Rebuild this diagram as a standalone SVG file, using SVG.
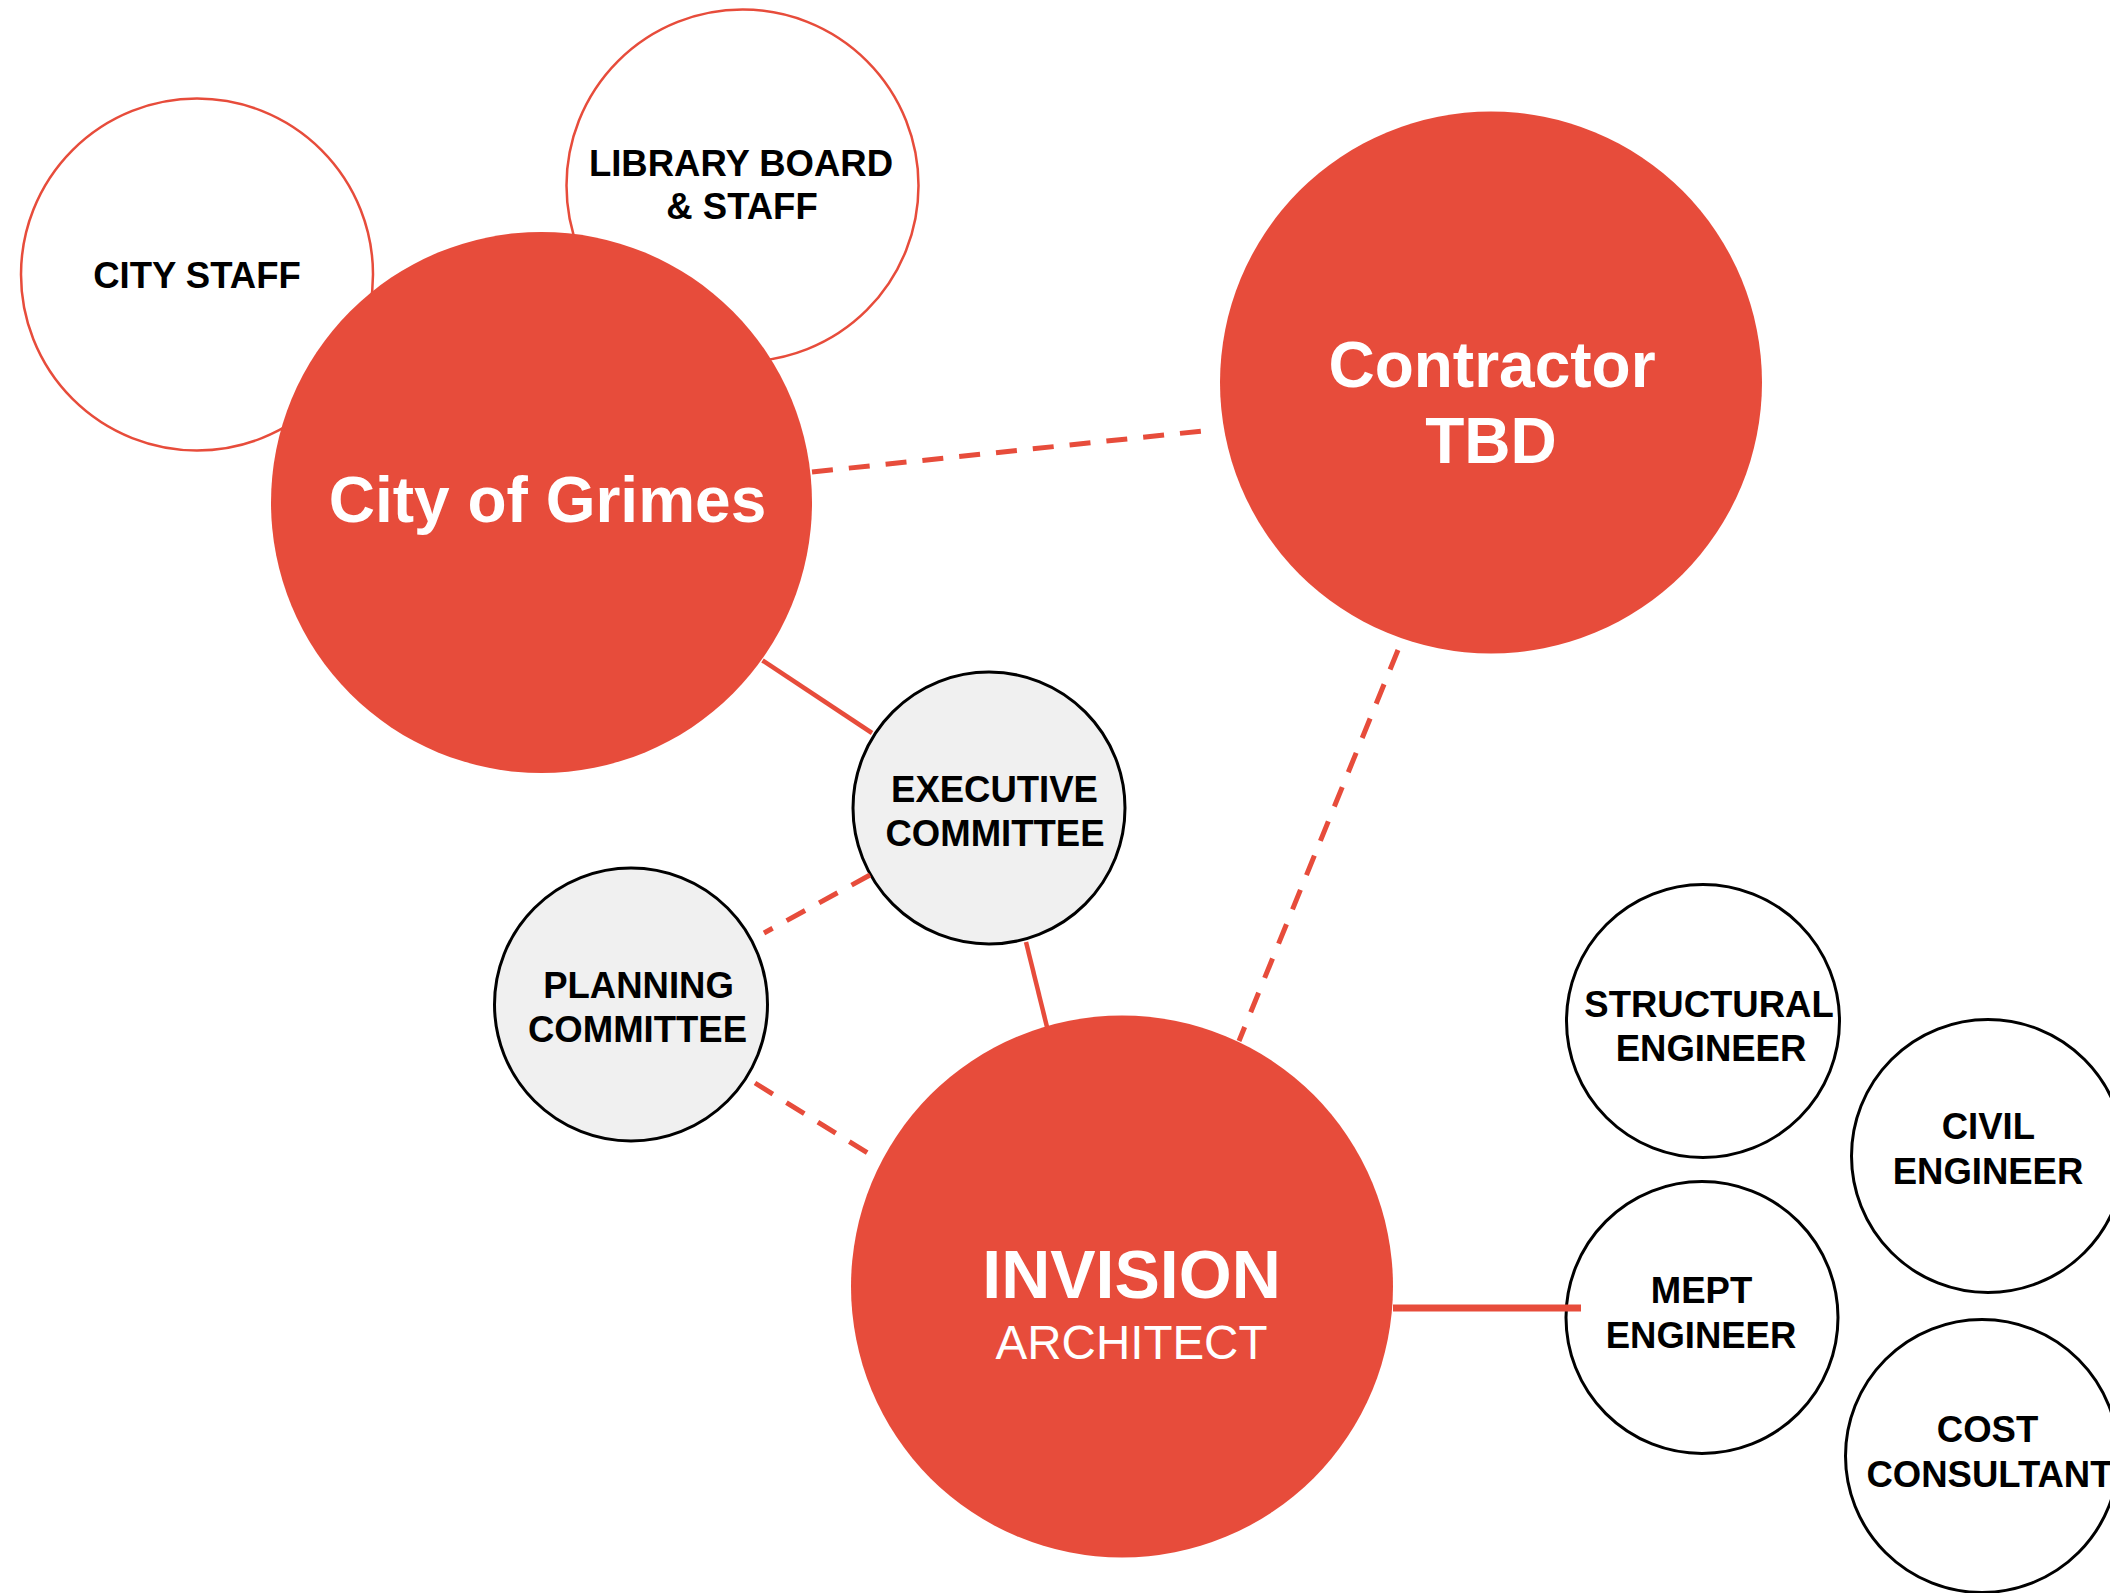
<svg xmlns="http://www.w3.org/2000/svg" width="2110" height="1593" viewBox="0 0 2110 1593">
<style>
.big{fill:#E74C3B}
.sub{fill:#FFFFFF;stroke:#E74C3B;stroke-width:2.5}
.com{fill:#F0F0F0;stroke:#000000;stroke-width:3}
.eng{fill:#FFFFFF;stroke:#000000;stroke-width:3}
text{font-family:"Liberation Sans",Arial,sans-serif;text-anchor:middle}
.lbl{font-size:36.5px;font-weight:bold;fill:#000000}
.hdr{font-size:64px;font-weight:bold;fill:#FFFFFF}
.solid{stroke:#E74C3B;stroke-width:4.5;fill:none}
.dash{stroke:#E74C3B;stroke-width:5;fill:none;stroke-dasharray:21 16}
</style>
<rect width="2110" height="1593" fill="#FFFFFF"/>
<g id="city-staff">
<circle class="sub" cx="197" cy="274.5" r="176"/>
<text class="lbl" x="197" y="287.5">CITY STAFF</text>
</g>
<g id="library-board">
<circle class="sub" cx="742.5" cy="185.5" r="176"/>
<text class="lbl" x="741" y="175.5">LIBRARY BOARD</text>
<text class="lbl" x="742" y="219">&amp; STAFF</text>
</g>
<g id="city-of-grimes">
<circle class="big" cx="541.5" cy="502.5" r="270.5"/>
<text class="hdr" x="547.5" y="521.5">City of Grimes</text>
</g>
<g id="contractor">
<circle class="big" cx="1491" cy="382.5" r="271"/>
<text class="hdr" x="1492" y="386.5">Contractor</text>
<text class="hdr" x="1491" y="463">TBD</text>
</g>
<g id="executive-committee">
<circle class="com" cx="989" cy="808" r="136"/>
<text class="lbl" x="994.5" y="802">EXECUTIVE</text>
<text class="lbl" x="995" y="846">COMMITTEE</text>
</g>
<g id="planning-committee">
<circle class="com" cx="631" cy="1004.5" r="136.5"/>
<text class="lbl" x="638.5" y="997.5">PLANNING</text>
<text class="lbl" x="637.5" y="1041.5">COMMITTEE</text>
</g>
<g id="invision">
<circle class="big" cx="1122" cy="1286.5" r="271"/>
<text class="hdr" x="1131.5" y="1297.5" style="font-size:68px">INVISION</text>
<text x="1131.5" y="1359" style="font-size:47.5px;fill:#FFFFFF">ARCHITECT</text>
</g>
<g id="structural-engineer">
<circle class="eng" cx="1703" cy="1021" r="136.5"/>
<text class="lbl" x="1709" y="1016.5">STRUCTURAL</text>
<text class="lbl" x="1711" y="1060.5">ENGINEER</text>
</g>
<g id="mept-engineer">
<circle class="eng" cx="1702" cy="1317.5" r="136"/>
<text class="lbl" x="1701.5" y="1302.5">MEPT</text>
<text class="lbl" x="1701" y="1347.5">ENGINEER</text>
</g>
<g id="civil-engineer">
<circle class="eng" cx="1988" cy="1156" r="136.5"/>
<text class="lbl" x="1988.3" y="1139">CIVIL</text>
<text class="lbl" x="1988" y="1184">ENGINEER</text>
</g>
<g id="cost-consultant">
<circle class="eng" cx="1982" cy="1456" r="136.5"/>
<text class="lbl" x="1987.5" y="1441.5">COST</text>
<text class="lbl" x="1989.5" y="1486.5">CONSULTANT</text>
</g>
<g id="connectors">
<line class="dash" x1="812" y1="472" x2="1212" y2="430"/>
<line class="dash" x1="1398" y1="650" x2="1239" y2="1041"/>
<line class="solid" x1="762.5" y1="660.5" x2="872" y2="733"/>
<line class="dash" x1="870" y1="875" x2="764" y2="933"/>
<line class="solid" x1="1026" y1="942" x2="1047" y2="1027"/>
<line class="dash" x1="755" y1="1083" x2="871" y2="1155"/>
<line class="solid" x1="1393" y1="1308" x2="1581" y2="1308" style="stroke-width:7"/>
</g>
</svg>
